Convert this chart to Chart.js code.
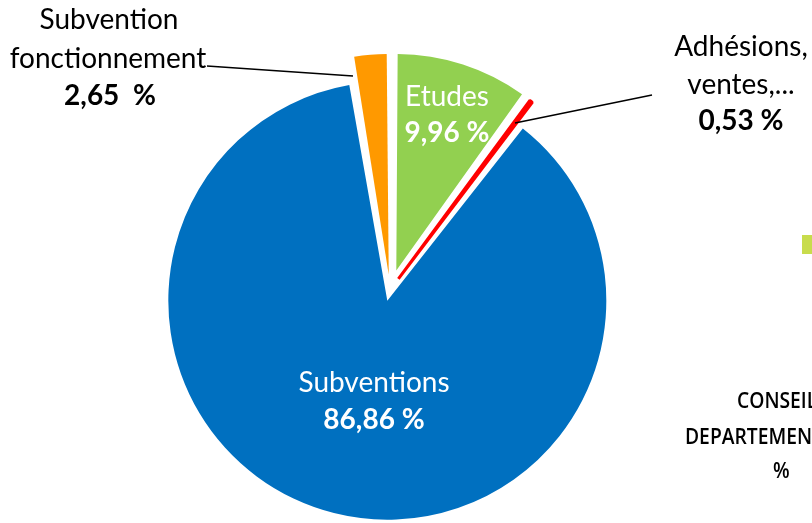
<!DOCTYPE html>
<html>
<head>
<meta charset="utf-8">
<script src="https://cdn.jsdelivr.net/npm/chart.js@4/dist/chart.umd.min.js"></script>
<style>
  html, body { margin: 0; padding: 0; background: #fff; }
  #wrap { width: 812px; height: 523px; position: relative; overflow: hidden; }
</style>
</head>
<body>
<div id="wrap"><canvas id="pie"></canvas></div>
<script>
// slices, clockwise from 12 o'clock
const categories = ["Etudes", "Adhésions, ventes,...", "Subventions", "Subvention fonctionnement"]
const shares = [9.96, 0.53, 86.86, 2.65]
const sliceColors = ["#92D050", "#FF0000", "#0070C0", "#FF9900"]
const sliceOffsets = [82, 56, 44, 61]
const sliceBorders = [0, 3, 0, 0]

const pct = (v, sep = " ") => v.toFixed(2).replace(".", ",") + sep + "%"

// text drawn on top of the pie
const pieText = {
  id: "pieText",
  afterDatasetsDraw(chart) {
    const ctx = chart.ctx
    ctx.save()
    ctx.textAlign = "center"
    ctx.textBaseline = "middle"

    const txt = (s, x, y, color, bold, size = 28) => {
      ctx.fillStyle = color
      ctx.font = (bold ? "bold " : "") + size + "px Lato, 'Open Sans', sans-serif"
      ctx.fillText(s, x, y)
    }

    // inside labels
    txt("Etudes", 447, 97, "#fff", false)
    txt(pct(shares[0]), 447, 133, "#fff", true)
    txt("Subventions", 374, 383, "#fff", false)
    txt(pct(shares[2]), 374, 420, "#fff", true)

    // outside labels
    txt("Subvention", 109, 20, "#000", false)
    txt("fonctionnement", 108, 59, "#000", false)
    txt(pct(shares[3], "  "), 110, 96, "#000", true)
    txt("Adhésions,", 741, 47, "#000", false)
    txt("ventes,...", 741, 85, "#000", false)
    txt(pct(shares[1]), 741, 121, "#000", true)

    // leader lines
    ctx.strokeStyle = "#000"
    ctx.lineWidth = 1.5
    ctx.beginPath()
    ctx.moveTo(207, 66)
    ctx.lineTo(353, 76)
    ctx.moveTo(515, 123)
    ctx.lineTo(652, 95)
    ctx.stroke()

    // clipped fragment of a neighbouring legend
    ctx.fillStyle = "#C8DC4C"
    ctx.fillRect(802, 235, 12, 19)
    ctx.fillStyle = "#000"
    ctx.textAlign = "left"
    ctx.font = "600 21px 'Open Sans', sans-serif"
    const sx = 127 / ctx.measureText("DEPARTEMEN").width
    const frag = (s, x, y) => {
      ctx.save()
      ctx.translate(x, y)
      ctx.scale(sx, 1)
      ctx.fillText(s, 0, 0)
      ctx.restore()
    }
    frag("CONSEIL", 737, 402)
    frag("DEPARTEMENTAL", 685, 438)
    frag("%", 773, 472)
    ctx.restore()
  }
}

new Chart(document.getElementById("pie"), {
  type: "pie",
  data: {
    labels: categories,
    datasets: [
      {
        data: shares,
        backgroundColor: sliceColors,
        borderColor: sliceColors,
        borderWidth: sliceBorders,
        offset: sliceOffsets,
        hoverOffset: 0,
      },
    ],
  },
  options: {
    responsive: true,
    maintainAspectRatio: false,
    animation: false,
    radius: 208,
    layout: {
      padding: { left: 0, right: 32, top: 57, bottom: 0 },
    },
    plugins: {
      legend: { display: false },
      tooltip: { enabled: false },
    },
  },
  plugins: [pieText],
})
</script>
</body>
</html>
